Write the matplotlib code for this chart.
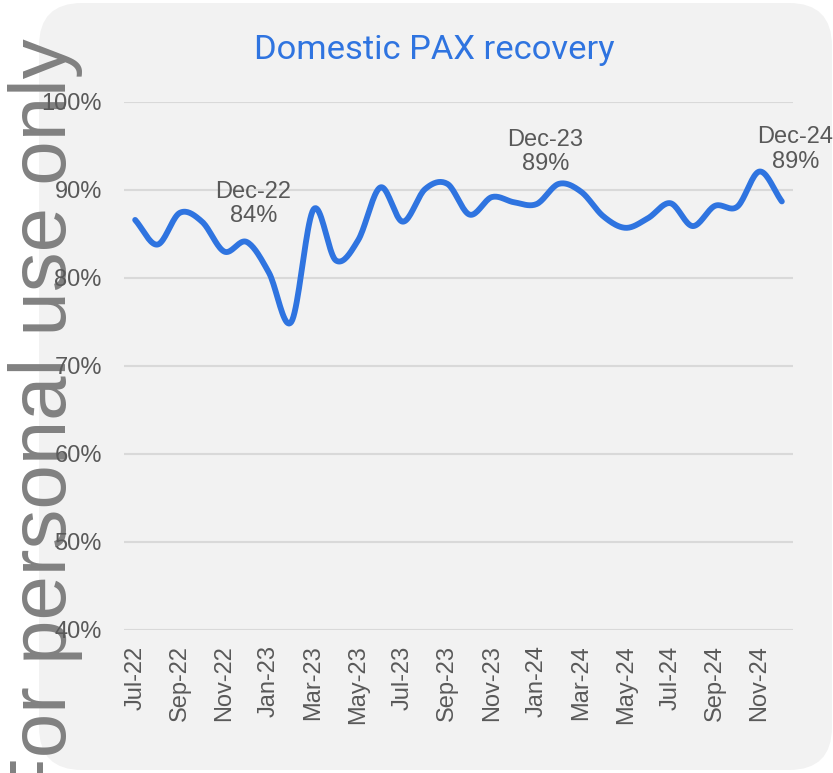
import numpy as np
import matplotlib
matplotlib.use('Agg')
import matplotlib.pyplot as plt
from matplotlib.patches import FancyBboxPatch

## DATA

months = ['Jul-22', 'Aug-22', 'Sep-22', 'Oct-22', 'Nov-22', 'Dec-22',
          'Jan-23', 'Feb-23', 'Mar-23', 'Apr-23', 'May-23', 'Jun-23',
          'Jul-23', 'Aug-23', 'Sep-23', 'Oct-23', 'Nov-23', 'Dec-23',
          'Jan-24', 'Feb-24', 'Mar-24', 'Apr-24', 'May-24', 'Jun-24',
          'Jul-24', 'Aug-24', 'Sep-24', 'Oct-24', 'Nov-24', 'Dec-24']
recovery = [86.6, 83.8, 87.4, 86.4, 83.0, 84.1,
            80.6, 75.0, 87.8, 82.0, 84.3, 90.3,
            86.4, 90.1, 90.7, 87.2, 89.2, 88.6,
            88.4, 90.7, 89.8, 87.0, 85.7, 86.8,
            88.5, 85.9, 88.2, 88.1, 92.1, 88.7]
labelled = ['Dec-22', 'Dec-23', 'Dec-24']
title = 'Domestic PAX recovery'
watermark = 'For personal use only'

## COLOURS / FONTS

blue = '#2f74e0'
grey_txt = '#595959'
grid_col = '#d9d9d9'
panel_col = '#f2f2f2'


def smooth(x, y, n=20):
    # catmull-rom style smoothing like the excel "smoothed line"
    px = np.concatenate([[2 * x[0] - x[1]], x, [2 * x[-1] - x[-2]]])
    py = np.concatenate([[2 * y[0] - y[1]], y, [2 * y[-1] - y[-2]]])
    xs, ys = [], []
    t = np.linspace(0, 1, n, endpoint=False)
    for i in range(1, len(px) - 2):
        b0x, b0y = px[i], py[i]
        b3x, b3y = px[i + 1], py[i + 1]
        b1x = b0x + (px[i + 1] - px[i - 1]) / 6
        b1y = b0y + (py[i + 1] - py[i - 1]) / 6
        b2x = b3x - (px[i + 2] - px[i]) / 6
        b2y = b3y - (py[i + 2] - py[i]) / 6
        xs.append((1 - t) ** 3 * b0x + 3 * (1 - t) ** 2 * t * b1x + 3 * (1 - t) * t ** 2 * b2x + t ** 3 * b3x)
        ys.append((1 - t) ** 3 * b0y + 3 * (1 - t) ** 2 * t * b1y + 3 * (1 - t) * t ** 2 * b2y + t ** 3 * b3y)
    xs.append([x[-1]])
    ys.append([y[-1]])
    return np.concatenate(xs), np.concatenate(ys)


W, H = 833, 773
fig = plt.figure(figsize=(W / 100, H / 100), dpi=100)
fig.patch.set_facecolor('white')

# rounded grey panel
bg = fig.add_axes([0, 0, 1, 1], zorder=-2)
bg.set_xlim(0, W)
bg.set_ylim(0, H)
bg.axis('off')
bg.add_patch(FancyBboxPatch((39, 3), 793, 767, boxstyle='round,pad=0,rounding_size=43',
                            facecolor=panel_col, edgecolor='none'))

# watermark
fig.text(83 / W, 1 - 38 / H, watermark, rotation=90, ha='right', va='top',
         fontsize=57.5, family='Liberation Sans', color='#7a7a7a', alpha=0.95, zorder=-1)

ax = fig.add_axes([124 / W, 1 - 630 / H, (793 - 124) / W, (630 - 102) / H], zorder=1)
ax.patch.set_alpha(0)

x = np.arange(len(months))
sx, sy = smooth(x.astype(float), np.array(recovery))
ax.plot(sx, sy, color=blue, lw=4.2, solid_capstyle='round', zorder=3)

ax.set_xlim(-0.5, len(months) - 0.5)
ax.set_ylim(40, 100)
ax.set_yticks(np.arange(40, 101, 10))
ax.set_yticklabels([f'{v}%' for v in range(40, 101, 10)])
ax.set_xticks(x[::2])
ax.set_xticklabels(months[::2], rotation=90)
ax.grid(axis='y', color=grid_col, lw=1.5)
ax.set_axisbelow(True)
for s in ax.spines.values():
    s.set_visible(False)
ax.tick_params(axis='both', length=0, labelcolor=grey_txt, labelsize=17)
ax.tick_params(axis='y', pad=16)
ax.tick_params(axis='x', pad=11)
for lbl in ax.get_xticklabels() + ax.get_yticklabels():
    lbl.set_family('Liberation Sans')

# data labels
offsets = {'Dec-22': (0.3, 4.3), 'Dec-23': (1.4, 5.7), 'Dec-24': (0.6, 5.9)}
for m in labelled:
    i = months.index(m)
    dx, dy = offsets[m]
    ax.text(i + dx, recovery[i] + dy, f'{m}\n{recovery[i]:.0f}%', ha='center', va='center',
            fontsize=17, family='Liberation Sans', color=grey_txt, linespacing=1.15,
            clip_on=False)

fig.text(434 / W, 1 - 50 / H, title, ha='center', va='center', fontsize=24.8,
         family='Roboto', color=blue)

fig.savefig('out.png', dpi=100)
